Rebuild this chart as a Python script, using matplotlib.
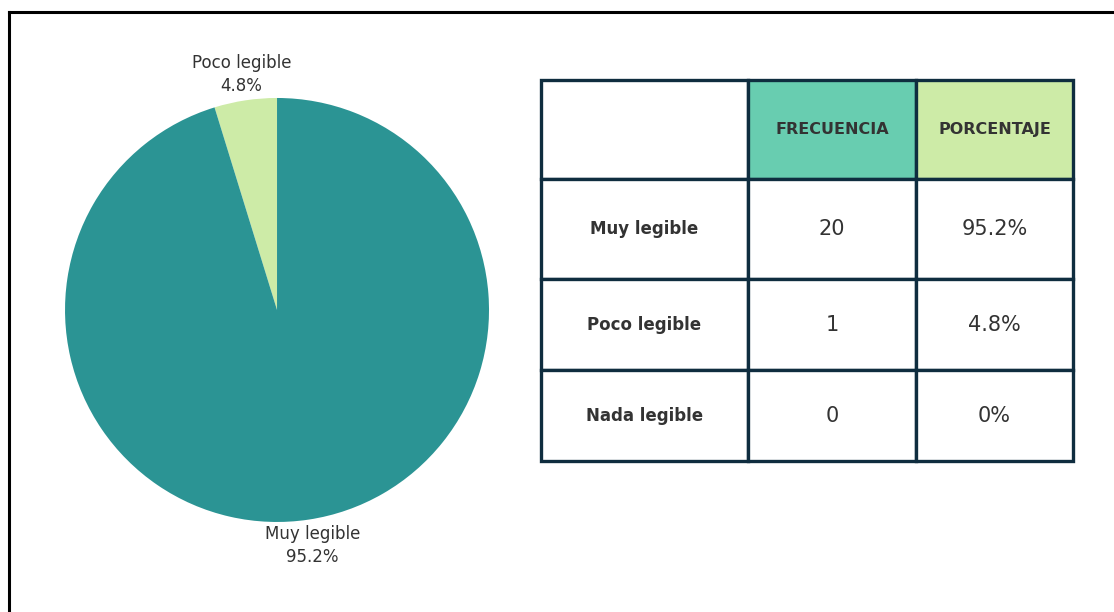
import matplotlib
matplotlib.use("Agg")
import matplotlib.pyplot as plt
from matplotlib.lines import Line2D

# Data
categories = ["Muy legible", "Poco legible", "Nada legible"]
frecuencia = [20, 1, 0]
porcentaje = [95.2, 4.8, 0.0]
pct_labels = ["95.2%", "4.8%", "0%"]
headers = ["", "FRECUENCIA", "PORCENTAJE"]

plt.rcParams['font.family'] = ['DejaVu Sans']
TXT = "#333333"
EDGE = "#0f2d3f"

fig = plt.figure(figsize=(11.14, 6.12), dpi=100)
fig.patch.set_facecolor("white")

# Border lines (top and left)
fig.add_artist(Line2D([0.0081, 1.0], [0.9804, 0.9804], transform=fig.transFigure,
                      color="black", lw=2.2))
fig.add_artist(Line2D([0.0081, 0.0081], [0.0, 0.9804], transform=fig.transFigure,
                      color="black", lw=2.2))

# Pie
ax = fig.add_axes([0.01077, 0.0605, 0.4758, 0.866])
pie_vals = [frecuencia[1], frecuencia[0]]
pie_labels = [f"{categories[1]}\n{pct_labels[1]}", f"{categories[0]}\n{pct_labels[0]}"]
pie_colors = ["#cdeba7", "#2b9494"]
wedges, texts = ax.pie(pie_vals, labels=pie_labels, colors=pie_colors, startangle=90,
                       counterclock=True, labeldistance=1.125,
                       textprops=dict(fontsize=12, color=TXT))
for t in texts:
    t.set_horizontalalignment("center")
    t.set_verticalalignment("center")
    t.set_linespacing(1.35)
ax.set_xlim(-1.25, 1.25)
ax.set_ylim(-1.25, 1.25)
ax.set_aspect("equal")
ax.axis("off")

# Table
tax = fig.add_axes([0.4856, 0.2467, 0.4776, 0.6225])
tax.axis("off")
cell_text = [headers] + [[c, str(f), p] for c, f, p in zip(categories, frecuencia, pct_labels)]
tbl = tax.table(cellText=cell_text, cellLoc="center", bbox=[0, 0, 1, 1])
tbl.auto_set_font_size(False)
col_w = [207, 168, 157]
row_h = [99, 100, 91, 91]
header_colors = ["white", "#68cdb0", "#cdeba7"]
for (r, c), cell in tbl.get_celld().items():
    cell.set_width(col_w[c] / sum(col_w))
    cell.set_height(row_h[r] / sum(row_h))
    cell.set_edgecolor(EDGE)
    cell.set_linewidth(2.4)
    txt = cell.get_text()
    txt.set_color(TXT)
    if r == 0:
        cell.set_facecolor(header_colors[c])
        txt.set_fontsize(11.5)
        txt.set_fontweight("bold")
    elif c == 0:
        cell.set_facecolor("white")
        txt.set_fontsize(12)
        txt.set_fontweight("bold")
    else:
        cell.set_facecolor("white")
        txt.set_fontsize(15)

fig.savefig("out.png", dpi=100, facecolor="white")
